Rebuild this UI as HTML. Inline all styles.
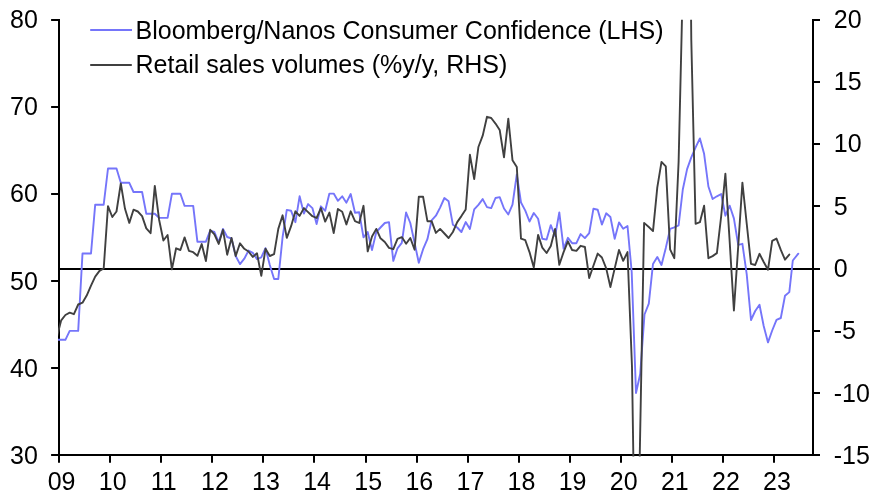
<!DOCTYPE html><html><head><meta charset="utf-8"><title>chart</title><style>
html,body{margin:0;padding:0;background:#fff;}body{width:885px;height:498px;overflow:hidden;}
svg{display:block;will-change:transform;}text{font-family:"Liberation Sans",sans-serif;font-size:25px;fill:#000;}
</style></head><body>
<svg width="885" height="498" viewBox="0 0 885 498">
<rect width="885" height="498" fill="#fff"/>
<defs><clipPath id="plot"><rect x="58.0" y="19.7" width="756.0" height="436.8"/></clipPath></defs>
<g stroke="#000" stroke-width="2" fill="none">
<path d="M59.0,19.0 V456.0"/>
<path d="M813.0,19.0 V456.0"/>
<path d="M51.1,455.0 H820.0"/>
<path d="M59.0,269.0 H820.0"/>
<path d="M51.1,20.00 H59.0"/>
<path d="M51.1,107.00 H59.0"/>
<path d="M51.1,194.00 H59.0"/>
<path d="M51.1,281.00 H59.0"/>
<path d="M51.1,368.00 H59.0"/>
<path d="M813.0,20.00 H820.0"/>
<path d="M813.0,82.00 H820.0"/>
<path d="M813.0,144.00 H820.0"/>
<path d="M813.0,206.00 H820.0"/>
<path d="M813.0,269.00 H820.0"/>
<path d="M813.0,331.00 H820.0"/>
<path d="M813.0,393.00 H820.0"/>
<path d="M813.0,455.00 H820.0"/>
<path d="M59.00,455.0 V462.8"/>
<path d="M110.00,455.0 V462.8"/>
<path d="M161.00,455.0 V462.8"/>
<path d="M212.00,455.0 V462.8"/>
<path d="M263.00,455.0 V462.8"/>
<path d="M314.00,455.0 V462.8"/>
<path d="M366.00,455.0 V462.8"/>
<path d="M417.00,455.0 V462.8"/>
<path d="M468.00,455.0 V462.8"/>
<path d="M519.00,455.0 V462.8"/>
<path d="M570.00,455.0 V462.8"/>
<path d="M621.00,455.0 V462.8"/>
<path d="M672.00,455.0 V462.8"/>
<path d="M723.00,455.0 V462.8"/>
<path d="M774.00,455.0 V462.8"/>
</g>
<g clip-path="url(#plot)" fill="none" stroke-linejoin="round" stroke-linecap="round">
<path d="M58.1,339.8 L65.4,339.8 L69.7,330.9 L73.9,330.9 L78.2,330.9 L82.5,253.5 L86.7,253.5 L91.0,253.5 L95.2,204.7 L99.5,204.7 L103.7,204.7 L108.0,168.5 L112.3,168.5 L116.5,168.5 L120.8,182.8 L125.0,182.8 L129.3,182.8 L133.5,192.0 L137.8,192.0 L142.1,192.0 L146.3,213.7 L150.6,213.7 L154.8,213.7 L159.1,217.9 L163.4,217.9 L167.6,217.9 L171.9,193.8 L176.1,193.8 L180.4,193.8 L184.6,205.9 L188.9,205.9 L193.2,205.9 L197.4,241.7 L201.7,241.7 L205.9,241.7 L210.2,230.7 L214.4,232.0 L218.7,242.4 L223.0,228.9 L227.2,237.0 L231.5,238.5 L235.7,256.0 L240.0,264.1 L244.3,258.7 L248.5,250.6 L252.8,252.9 L257.0,259.1 L261.3,257.3 L265.5,248.2 L269.8,265.0 L274.1,279.0 L278.3,279.0 L282.6,237.0 L286.8,209.9 L291.1,210.8 L295.4,222.2 L299.6,196.3 L303.9,213.5 L308.1,204.1 L312.4,208.1 L316.6,224.0 L320.9,206.3 L325.2,210.8 L329.4,193.6 L333.7,193.6 L337.9,200.8 L342.2,196.3 L346.4,202.7 L350.7,194.0 L355.0,212.8 L359.2,212.3 L363.5,237.4 L367.7,232.0 L372.0,250.1 L376.3,232.0 L380.5,227.5 L384.8,223.0 L389.0,222.1 L393.3,260.9 L397.5,248.3 L401.8,242.9 L406.1,212.5 L410.3,223.0 L414.6,242.9 L418.8,262.8 L423.1,249.2 L427.4,239.2 L431.6,220.3 L435.9,215.7 L440.1,207.6 L444.4,198.0 L448.6,201.3 L452.9,224.8 L457.2,227.5 L461.4,232.0 L465.7,222.1 L469.9,228.9 L474.2,209.4 L478.4,204.9 L482.7,199.1 L487.0,207.1 L491.2,208.1 L495.5,198.0 L499.7,197.1 L504.0,208.5 L508.3,214.5 L512.5,204.6 L516.8,174.5 L521.0,202.5 L525.3,210.6 L529.5,221.5 L533.8,213.0 L538.1,218.8 L542.3,238.7 L546.6,239.6 L550.8,225.1 L555.1,236.0 L559.3,212.4 L563.6,248.6 L567.9,237.8 L572.1,243.2 L576.4,243.2 L580.6,234.1 L584.9,238.1 L589.2,233.2 L593.4,208.8 L597.7,209.7 L601.9,224.6 L606.2,213.3 L610.4,217.0 L614.7,238.7 L619.0,222.4 L623.2,228.7 L627.5,226.0 L631.7,272.0 L636.0,393.0 L640.2,374.0 L644.5,314.5 L648.8,303.7 L653.0,263.9 L657.3,257.0 L661.5,265.0 L665.8,247.9 L670.1,228.9 L674.3,227.4 L678.6,225.3 L682.8,189.5 L687.1,169.1 L691.3,157.4 L695.6,147.4 L699.9,138.4 L704.1,153.8 L708.4,186.5 L712.6,199.0 L716.9,196.3 L721.2,194.0 L725.4,215.7 L729.7,205.7 L733.9,218.4 L738.2,244.8 L742.4,243.8 L746.7,274.2 L751.0,320.0 L755.2,311.0 L759.5,304.8 L763.7,326.0 L768.0,342.4 L772.2,330.5 L776.5,319.8 L780.8,318.0 L785.0,295.8 L789.3,292.1 L792.8,260.5 L798.3,253.7" stroke="#7575fa" stroke-width="1.9"/>
<path d="M56.9,337.0 L61.2,320.3 L65.4,315.0 L69.7,312.7 L73.9,314.2 L78.2,304.5 L82.5,302.7 L86.7,295.6 L91.0,285.7 L95.2,276.6 L99.5,270.9 L103.7,268.5 L108.0,206.1 L112.3,217.0 L116.5,211.5 L120.8,183.5 L125.0,208.8 L129.3,222.9 L133.5,209.7 L137.8,211.5 L142.1,216.1 L146.3,228.4 L150.6,233.2 L154.8,185.9 L159.1,219.7 L163.4,240.5 L167.6,235.0 L171.9,269.4 L176.1,248.3 L180.4,250.0 L184.6,237.4 L188.9,250.8 L193.2,252.2 L197.4,255.8 L201.7,244.1 L205.9,261.0 L210.2,229.8 L214.4,234.3 L218.7,243.9 L223.0,229.8 L227.2,254.7 L231.5,237.9 L235.7,256.0 L240.0,243.3 L244.3,248.8 L248.5,251.5 L252.8,256.9 L257.0,253.3 L261.3,275.9 L265.5,248.8 L269.8,256.0 L274.1,254.2 L278.3,228.9 L282.6,215.3 L286.8,237.9 L291.1,226.2 L295.4,211.3 L299.6,215.9 L303.9,208.1 L308.1,212.1 L312.4,216.2 L316.6,218.0 L320.9,208.1 L325.2,221.6 L329.4,212.6 L333.7,233.0 L337.9,209.0 L342.2,211.7 L346.4,224.4 L350.7,211.3 L355.0,221.1 L359.2,223.0 L363.5,205.8 L367.7,251.4 L372.0,236.5 L376.3,228.9 L380.5,238.3 L384.8,242.0 L389.0,247.9 L393.3,249.2 L397.5,238.9 L401.8,237.1 L406.1,243.8 L410.3,238.0 L414.6,249.7 L418.8,196.8 L423.1,196.8 L427.4,221.2 L431.6,221.2 L435.9,232.9 L440.1,228.9 L444.4,233.5 L448.6,238.0 L452.9,232.0 L457.2,222.1 L461.4,216.1 L465.7,209.4 L469.9,154.7 L474.2,179.1 L478.4,147.0 L482.7,135.7 L487.0,116.8 L491.2,118.0 L495.5,123.6 L499.7,130.0 L504.0,157.4 L508.3,118.6 L512.5,160.2 L516.8,167.0 L521.0,238.6 L525.3,240.2 L529.5,252.1 L533.8,267.5 L538.1,234.9 L542.3,247.6 L546.6,253.0 L550.8,246.0 L555.1,228.9 L559.3,264.8 L563.6,252.1 L567.9,241.3 L572.1,250.0 L576.4,250.9 L580.6,245.8 L584.9,247.0 L589.2,278.0 L593.4,265.7 L597.7,253.6 L601.9,257.5 L606.2,268.4 L610.4,287.0 L614.7,268.4 L619.0,250.0 L623.2,260.8 L627.5,252.1 L632.0,367.0 L636.3,654.0 L639.3,480.0 L644.1,222.9 L648.8,227.0 L653.0,231.1 L657.3,187.4 L661.5,161.9 L665.8,166.4 L670.1,249.3 L674.3,258.2 L678.6,162.0 L682.8,-16.0 L687.1,-370.0 L691.3,40.0 L695.6,223.8 L699.9,222.2 L704.1,205.7 L708.4,258.2 L712.6,256.1 L716.9,253.1 L721.2,216.0 L725.4,173.7 L729.7,242.0 L733.9,310.5 L738.2,246.5 L742.4,182.6 L746.7,223.5 L751.0,263.8 L755.2,265.0 L759.5,253.8 L763.7,262.0 L768.0,269.7 L772.2,240.9 L776.5,238.6 L780.8,249.9 L785.0,259.7 L789.3,254.6" stroke="#404040" stroke-width="1.9"/>
</g>
<text x="37.9" y="27.8" text-anchor="end">80</text>
<text x="37.9" y="115.0" text-anchor="end">70</text>
<text x="37.9" y="202.3" text-anchor="end">60</text>
<text x="37.9" y="289.5" text-anchor="end">50</text>
<text x="37.9" y="376.8" text-anchor="end">40</text>
<text x="37.9" y="464.0" text-anchor="end">30</text>
<text x="833.8" y="27.8" text-anchor="start">20</text>
<text x="833.8" y="90.1" text-anchor="start">15</text>
<text x="833.8" y="152.4" text-anchor="start">10</text>
<text x="833.8" y="214.7" text-anchor="start">5</text>
<text x="833.8" y="277.1" text-anchor="start">0</text>
<text x="833.8" y="339.4" text-anchor="start">-5</text>
<text x="833.8" y="401.7" text-anchor="start">-10</text>
<text x="833.8" y="464.0" text-anchor="start">-15</text>
<text x="61.6" y="489.8" text-anchor="middle">09</text>
<text x="112.7" y="489.8" text-anchor="middle">10</text>
<text x="163.8" y="489.8" text-anchor="middle">11</text>
<text x="214.9" y="489.8" text-anchor="middle">12</text>
<text x="266.0" y="489.8" text-anchor="middle">13</text>
<text x="317.1" y="489.8" text-anchor="middle">14</text>
<text x="368.2" y="489.8" text-anchor="middle">15</text>
<text x="419.3" y="489.8" text-anchor="middle">16</text>
<text x="470.4" y="489.8" text-anchor="middle">17</text>
<text x="521.5" y="489.8" text-anchor="middle">18</text>
<text x="572.6" y="489.8" text-anchor="middle">19</text>
<text x="623.7" y="489.8" text-anchor="middle">20</text>
<text x="674.8" y="489.8" text-anchor="middle">21</text>
<text x="725.9" y="489.8" text-anchor="middle">22</text>
<text x="777.0" y="489.8" text-anchor="middle">23</text>
<path d="M90.2,30.0 H132" stroke="#7575fa" stroke-width="1.9"/>
<path d="M90.2,65.0 H131.8" stroke="#404040" stroke-width="1.9"/>
<text x="135.5" y="38.8">Bloomberg/Nanos Consumer Confidence (LHS)</text>
<text x="135.5" y="73.3">Retail sales volumes (%y/y, RHS)</text>
</svg></body></html>
